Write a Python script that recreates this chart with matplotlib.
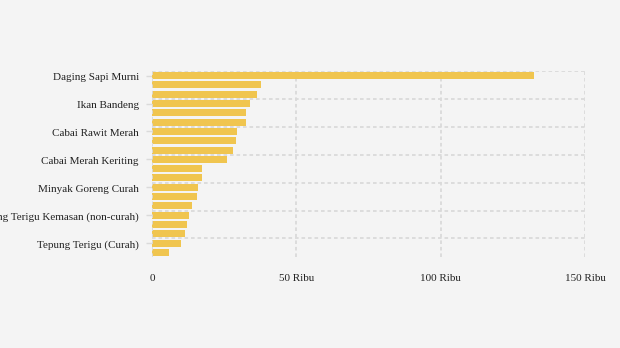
import matplotlib.pyplot as plt
import matplotlib.transforms as mtransforms
import numpy as np

# komoditas urut dari harga tertinggi; hanya setiap label ketiga yang tampil di grafik
COMMODITIES = [
    "Daging Sapi Murni", "", "",
    "Ikan Bandeng", "", "",
    "Cabai Rawit Merah", "", "",
    "Cabai Merah Keriting", "", "",
    "Minyak Goreng Curah", "", "",
    "Tepung Terigu Kemasan (non-curah)", "", "",
    "Tepung Terigu (Curah)", "",
]
PRICES = [
    132300, 37600, 36400,
    33900, 32500, 32500,
    29400, 29100, 28000,
    26000, 17300, 17300,
    15900, 15600, 13800,
    12800, 12100, 11300,
    10000, 5900,
]
X_TICKS = [0, 50000, 100000, 150000]
X_TICK_LABELS = ["0", "50 Ribu", "100 Ribu", "150 Ribu"]

BG_COLOR = "#f4f4f4"
BAR_COLOR = "#f0c54f"
GRID_COLOR = "#dadada"
TEXT_COLOR = "#222222"

plt.rcParams["font.family"] = ["Liberation Serif", "DejaVu Serif"]

figure = plt.figure(figsize=(6.2, 3.48), dpi=100, facecolor=BG_COLOR)
axis = figure.add_axes([152 / 620, 1 - 257 / 348, 433 / 620, 186 / 348])
axis.set_facecolor(BG_COLOR)

positions = np.arange(len(PRICES))
axis.barh(positions, PRICES, height=0.75, color=BAR_COLOR, zorder=2)

axis.set_xlim(0, 150000)
axis.set_ylim(len(PRICES) - 0.5, -0.5)

# garis bantu horizontal di batas kategori, setiap tiga batang
for boundary in np.arange(-0.5, len(PRICES) - 1, 3):
    axis.axhline(boundary, color=GRID_COLOR, linewidth=1.3,
                 linestyle=(0, (2, 1.6)), zorder=1)
for tick in X_TICKS:
    axis.axvline(tick, color=GRID_COLOR, linewidth=1.3,
                 linestyle=(0, (2, 1.6)), zorder=1 if tick else 3)

for spine in axis.spines.values():
    spine.set_visible(False)

label_positions = positions[::3]
axis.set_yticks(label_positions)
axis.set_yticklabels([COMMODITIES[i] for i in label_positions])
axis.tick_params(axis="y", length=4, width=1, color=GRID_COLOR, pad=5.5,
                 labelsize=8, labelcolor=TEXT_COLOR)
nudge = mtransforms.ScaledTranslation(0, -1 / 100, figure.dpi_scale_trans)
for label in axis.get_yticklabels():
    label.set_transform(label.get_transform() + nudge)

axis.set_xticks(X_TICKS)
axis.set_xticklabels(X_TICK_LABELS)
axis.tick_params(axis="x", length=0, pad=12, labelsize=8, labelcolor=TEXT_COLOR)

figure.savefig("out.png", dpi=100, facecolor=BG_COLOR)
